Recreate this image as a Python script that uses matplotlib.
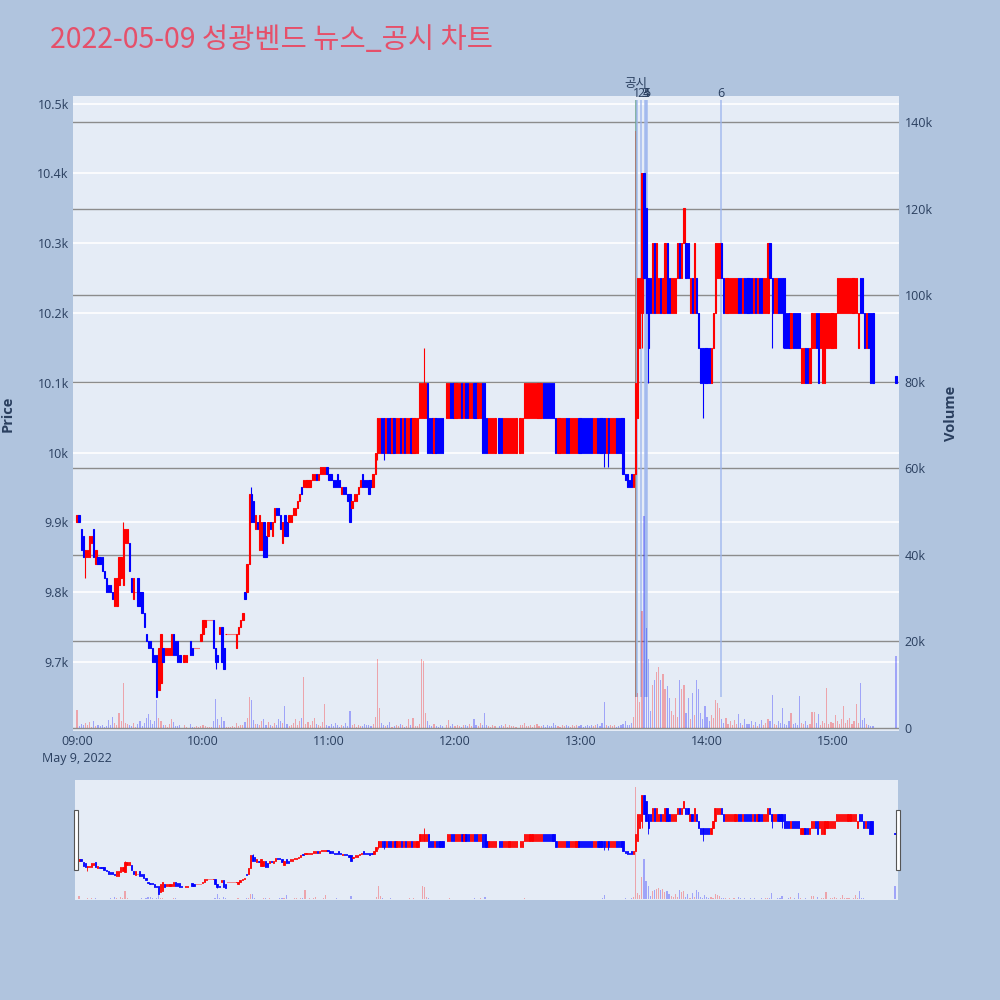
import matplotlib.pyplot as plt
from matplotlib.patches import Rectangle

plt.rcParams['font.family'] = ['Open Sans', 'Noto Sans CJK KR', 'DejaVu Sans']

# one candle per minute, counted from 09:00 (390 = 15:30 closing auction)
minutes = list(range(380)) + [390]

opens = [
    9900, 9910, 9890, 9880, 9850, 9850, 9850, 9870, 9890, 9840,
    9850, 9850, 9850, 9830, 9820, 9810, 9810, 9800, 9780, 9780,
    9810, 9820, 9810, 9870, 9870, 9870, 9820, 9790, 9800, 9820,
    9800, 9800, 9770, 9740, 9730, 9730, 9720, 9710, 9710, 9660,
    9670, 9720, 9710, 9710, 9710, 9710, 9740, 9730, 9730, 9710,
    None, 9700, 9700, None, 9730, 9720, 9720, 9720, 9720, 9730,
    9740, 9750, 9760, 9760, 9760, 9760, 9720, 9710, 9740, 9750,
    9720, 9740, 9740, 9740, 9740, 9740, 9720, 9740, 9750, 9760,
    9800, 9800, 9840, 9940, 9930, 9890, 9900, 9860, 9860, 9900,
    9880, 9880, 9900, 9880, 9900, 9920, 9920, 9910, 9870, 9910,
    9900, 9900, 9900, 9910, 9910, 9920, 9930, 9950, 9950, 9950,
    9950, 9950, 9960, 9960, 9970, 9960, 9970, 9970, 9970, 9980,
    9970, 9970, 9960, 9960, 9970, 9960, 9940, 9950, 9950, 9940,
    9940, 9920, 9930, 9930, 9940, 9950, 9970, 9960, 9960, 9960,
    9960, 9950, 9970, 10000, 10000, 10050, 10050, 10000, 10050, 10050,
    10000, 10050, 10000, 10000, 10050, 10000, 10050, 10000, 10000, 10050,
    10000, 10000, 10000, 10050, 10050, 10050, 10050, 10100, 10050, 10050,
    10000, 10050, 10050, 10050, 10050, None, 10050, 10050, 10100, 10100,
    10050, 10050, 10050, 10100, 10050, 10100, 10100, 10050, 10050, 10100,
    10100, 10050, 10050, 10100, 10100, 10050, 10000, 10000, 10000, 10000,
    None, 10050, 10050, 10000, 10000, 10000, 10000, 10000, 10000, 10000,
    None, 10000, 10000, 10050, 10050, 10050, 10050, 10050, 10050, 10050,
    10050, 10050, 10100, 10100, 10100, 10100, 10100, 10100, 10050, 10000,
    10000, 10000, 10000, 10050, 10050, 10000, 10000, 10000, 10000, 10050,
    10050, 10050, 10050, 10050, 10050, 10050, 10000, 10000, 10050, 10050,
    10050, 10050, 10000, 10050, 10000, 10000, 10000, 10050, 10050, 10050,
    10050, 9970, 9970, 9960, 9970, 9950, 9970, 10050, 10150, 10200,
    10400, 10350, 10250, 10250, 10200, 10300, 10200, 10200, 10250, 10200,
    10200, 10300, 10250, 10200, 10200, 10200, 10250, 10300, 10250, 10300,
    10300, 10300, 10200, 10250, 10200, 10250, 10200, 10150, 10150, 10150,
    10150, 10150, 10100, 10150, 10200, 10250, 10250, 10300, 10250, 10200,
    10200, 10200, 10200, 10200, 10200, 10250, 10250, 10200, 10250, 10250,
    10250, 10250, 10200, 10250, 10200, 10250, 10250, 10200, 10200, 10200,
    10300, 10250, 10200, 10200, 10250, 10250, 10250, 10250, 10200, 10200,
    10150, 10200, 10200, 10200, 10200, 10100, 10100, 10150, 10150, 10100,
    10150, 10150, 10200, 10200, 10150, 10100, 10100, 10150, 10150, 10150,
    10150, 10150, 10200, 10200, 10200, 10200, 10200, 10200, 10200, 10200,
    10200, 10200, 10150, 10250, 10250, 10200, 10150, 10200, 10200, 10200,
    10110,
]

closes = [
    9910, 9900, 9860, 9850, 9860, 9860, 9880, 9880, 9850, 9860,
    9840, 9840, 9830, 9820, 9800, 9800, 9800, 9790, 9820, 9820,
    9850, 9850, 9890, 9890, 9890, 9830, 9800, 9820, 9800, 9780,
    9780, 9770, 9750, 9730, 9720, 9720, 9700, 9700, 9650, 9720,
    9740, 9700, 9720, 9720, 9720, 9740, 9710, 9710, 9700, 9700,
    None, 9710, 9710, None, 9710, 9710, 9720, 9720, 9720, 9740,
    9760, 9760, 9760, 9760, 9760, 9720, 9700, 9700, 9750, 9700,
    9690, 9740, 9740, 9740, 9740, 9740, 9740, 9750, 9760, 9770,
    9790, 9840, 9940, 9900, 9900, 9910, 9890, 9910, 9900, 9850,
    9850, 9900, 9890, 9900, 9920, 9910, 9910, 9890, 9900, 9880,
    9880, 9910, 9910, 9920, 9920, 9930, 9940, 9940, 9960, 9960,
    9960, 9960, 9970, 9970, 9960, 9970, 9980, 9980, 9980, 9970,
    9960, 9960, 9950, 9950, 9950, 9950, 9950, 9940, 9940, 9930,
    9900, 9930, 9940, 9940, 9950, 9960, 9950, 9950, 9950, 9940,
    9950, 9970, 10000, 10050, 10050, 10000, 10000, 10050, 10000, 10000,
    10050, 10000, 10050, 10050, 10000, 10050, 10000, 10050, 10050, 10000,
    10050, 10050, 10050, 10100, 10100, 10100, 10100, 10000, 10000, 10000,
    10050, 10000, 10000, 10000, 10000, None, 10100, 10100, 10050, 10050,
    10100, 10100, 10100, 10050, 10100, 10050, 10050, 10100, 10100, 10050,
    10050, 10100, 10100, 10000, 10000, 10000, 10050, 10050, 10050, 10050,
    None, 10000, 10000, 10050, 10050, 10050, 10050, 10050, 10050, 10050,
    None, 10050, 10050, 10100, 10100, 10100, 10100, 10100, 10100, 10100,
    10100, 10100, 10050, 10050, 10050, 10050, 10050, 10050, 10000, 10050,
    10050, 10050, 10050, 10000, 10000, 10050, 10050, 10050, 10050, 10000,
    10000, 10000, 10000, 10000, 10000, 10000, 10050, 10050, 10000, 10000,
    10000, 10000, 10050, 10000, 10050, 10050, 10050, 10000, 10000, 10000,
    9970, 9960, 9950, 9950, 9950, 9970, 10100, 10250, 10250, 10400,
    10250, 10200, 10150, 10200, 10300, 10200, 10300, 10250, 10200, 10250,
    10300, 10200, 10200, 10250, 10250, 10250, 10300, 10250, 10300, 10350,
    10250, 10250, 10250, 10200, 10300, 10200, 10150, 10100, 10100, 10100,
    10100, 10100, 10150, 10200, 10300, 10300, 10300, 10250, 10200, 10250,
    10250, 10250, 10250, 10250, 10250, 10200, 10200, 10250, 10200, 10200,
    10200, 10200, 10250, 10200, 10250, 10200, 10200, 10250, 10250, 10300,
    10250, 10200, 10250, 10250, 10200, 10200, 10200, 10150, 10150, 10150,
    10200, 10150, 10150, 10150, 10150, 10150, 10150, 10100, 10100, 10150,
    10200, 10200, 10150, 10100, 10200, 10200, 10200, 10200, 10200, 10200,
    10200, 10200, 10250, 10250, 10250, 10250, 10250, 10250, 10250, 10250,
    10250, 10250, 10200, 10200, 10200, 10150, 10200, 10150, 10100, 10100,
    10100,
]

wick_high = {22: 9900, 83: 9950, 165: 10150}
wick_low = {4: 9820, 66: 9690, 143: 9990, 146: 9990, 251: 9980, 253: 9980,
            269: 10150, 272: 10100, 298: 10050, 331: 10150, 336: 10150}

# traded volume per minute, thousands of shares
volume_k = [
    4.2, 0.5, 1.0, 0.8, 1.2, 0.6, 1.4, 0.3, 1.5, 0.5, 0.8, 0.4, 0.6, 0.3, 0.5, 1.8, 0.7, 2.6, 1.2, 0.6,
    3.5, 1.5, 10.4, 1.2, 1.0, 0.6, 0.4, 1.1, 0.3, 0.9, 1.6, 0.5, 1.2, 2.4, 3.2, 1.8, 0.9, 1.5, 6.5, 2.2,
    1.6, 0.8, 0.6, 0.3, 0.9, 2.1, 1.4, 0.5, 0.4, 0.7, 0.0, 0.6, 0.2, 0.0, 1.0, 0.3, 0.2, 0.4, 0.3, 0.5,
    0.8, 0.4, 0.2, 0.3, 0.2, 1.5, 6.7, 2.0, 0.6, 2.5, 1.7, 0.3, 0.2, 0.2, 0.4, 0.3, 1.2, 0.5, 0.8, 0.6,
    1.4, 2.2, 7.2, 6.5, 1.8, 0.9, 1.0, 0.6, 1.5, 2.0, 0.8, 1.3, 0.7, 0.5, 1.1, 0.6, 2.0, 1.6, 1.2, 5.0,
    1.0, 0.5, 0.8, 1.2, 2.0, 0.6, 1.5, 2.2, 11.8, 0.9, 1.3, 0.7, 1.6, 2.4, 1.0, 0.8, 0.5, 1.4, 5.5, 0.7,
    0.5, 0.9, 0.4, 1.2, 0.6, 0.3, 0.8, 0.5, 1.1, 0.4, 4.0, 0.6, 0.9, 0.3, 0.7, 0.5, 0.4, 1.0, 0.6, 0.8,
    0.5, 0.9, 2.5, 16.0, 4.6, 1.2, 0.8, 0.5, 0.6, 1.4, 0.3, 0.4, 0.7, 0.5, 1.0, 0.6, 0.3, 0.5, 2.0, 0.8,
    2.3, 0.5, 0.4, 1.0, 16.0, 15.5, 3.5, 1.6, 0.8, 0.4, 0.9, 0.5, 0.3, 0.6, 0.4, 0.0, 0.8, 1.8, 0.5, 0.9,
    0.4, 0.7, 0.5, 0.3, 0.6, 0.8, 0.4, 1.0, 0.5, 2.0, 0.7, 0.4, 1.2, 0.6, 3.5, 0.8, 0.5, 0.3, 0.6, 0.4,
    0.0, 0.5, 0.7, 0.4, 0.9, 0.3, 0.6, 0.5, 0.4, 0.3, 0.0, 0.6, 0.8, 1.2, 0.5, 0.4, 0.7, 0.3, 0.6, 1.0,
    0.5, 0.4, 0.8, 0.3, 0.6, 0.5, 0.4, 1.1, 0.7, 0.5, 0.3, 0.6, 0.4, 0.8, 0.5, 0.3, 0.6, 0.4, 0.7, 0.5,
    0.6, 0.3, 0.5, 0.8, 0.4, 0.7, 0.5, 0.6, 0.9, 0.4, 1.2, 6.0, 0.8, 0.5, 0.7, 0.4, 0.6, 0.3, 0.5, 0.8,
    1.0, 1.5, 0.8, 0.6, 1.2, 2.5, 138.0, 8.0, 6.0, 27.0, 49.0, 23.0, 16.0, 4.0, 10.0, 11.0, 13.0, 14.0, 11.0, 12.5,
    9.0, 9.7, 7.0, 4.0, 3.0, 7.0, 2.5, 11.0, 9.0, 10.0, 3.5, 7.0, 2.0, 8.0, 3.0, 11.0, 9.0, 3.5, 2.0, 5.0,
    2.5, 1.5, 3.0, 2.2, 6.5, 5.8, 4.5, 2.0, 1.2, 2.3, 1.0, 1.5, 0.8, 1.8, 1.0, 3.2, 1.2, 0.7, 2.0, 1.0,
    0.9, 1.6, 0.8, 1.3, 0.5, 1.0, 1.8, 0.8, 1.2, 2.0, 1.5, 7.6, 1.0, 0.8, 1.6, 1.2, 4.6, 1.0, 0.7, 1.5,
    3.5, 1.0, 1.2, 0.8, 7.4, 1.2, 0.9, 1.5, 0.6, 1.0, 3.7, 3.7, 1.1, 3.2, 0.8, 1.5, 1.2, 9.2, 1.0, 1.4,
    1.2, 3.0, 1.5, 1.0, 2.0, 5.0, 1.2, 1.8, 2.2, 1.0, 1.5, 5.5, 1.2, 10.4, 1.8, 2.3, 1.0, 0.8, 0.5, 0.4,
    16.7,
]

# news / disclosure markers (minute after 09:00)
notice_minute = 266.0
notice_label = '공시'
news_minutes = [266.6, 268.4, 270.6, 271.0, 271.5, 306.5]
news_labels = ['1', '2', '3', '4', '5', '6']

time_ticks = [0, 60, 120, 180, 240, 300, 360]
time_labels = ['09:00', '10:00', '11:00', '12:00', '13:00', '14:00', '15:00']
price_ticks = [9700, 9800, 9900, 10000, 10100, 10200, 10300, 10400, 10500]
price_labels = ['9.7k', '9.8k', '9.9k', '10k', '10.1k', '10.2k', '10.3k', '10.4k', '10.5k']
vol_ticks = [0, 20000, 40000, 60000, 80000, 100000, 120000, 140000]
vol_labels = ['0', '20k', '40k', '60k', '80k', '100k', '120k', '140k']

RED = '#ff0000'
BLUE = '#0000ff'
TXT = '#2a3f5f'
XLIM = (-1.9, 391.4)
PLIM = (9601, 10511)
VLIM = (-700, 146000)


def draw_candles(ax, lw, width):
    for m, o, c in zip(minutes, opens, closes):
        if o is None:
            continue
        col = RED if c >= o else BLUE
        lo, hi = min(o, c), max(o, c)
        ax.add_patch(Rectangle((m - width / 2, lo), width, hi - lo,
                               facecolor=col, edgecolor=col, lw=lw, zorder=3))
        h = wick_high.get(m, hi)
        l = wick_low.get(m, lo)
        if h > hi or l < lo:
            ax.vlines(m, l, h, color=col, lw=lw, zorder=3)


def draw_volume(ax, width):
    cols = []
    for o, c in zip(opens, closes):
        cols.append(RED if (o is None or c >= o) else BLUE)
    ax.bar(minutes, [v * 1000 for v in volume_k], width=width, color=cols,
           alpha=0.3, lw=0, zorder=4)


fig = plt.figure(figsize=(10, 10), dpi=100)
fig.patch.set_facecolor('#b0c4de')

rect = [0.073, 0.269, 0.826, 0.635]

# base layer: background + price grid + left ticks
ax_g = fig.add_axes(rect)
ax_g.set_facecolor('#e5ecf6')
ax_g.set_xlim(*XLIM)
ax_g.set_ylim(*PLIM)
ax_g.set_yticks(price_ticks)
ax_g.set_yticklabels(price_labels)
ax_g.set_xticks(time_ticks)
ax_g.set_xticklabels(time_labels)
ax_g.grid(axis='y', color='white', lw=1.2)
ax_g.tick_params(length=0, labelsize=9, colors=TXT, pad=3)
ax_g.set_ylabel('Price', fontsize=10.5, color=TXT, fontweight='bold', labelpad=16)
ax_g.set_axisbelow(True)
for s in ax_g.spines.values():
    s.set_visible(False)
ax_g.text(0, -0.033, 'May 9, 2022', transform=ax_g.get_xaxis_transform(),
          ha='center', va='top', fontsize=9, color=TXT)

# volume grid + right ticks
ax_v = fig.add_axes(rect, sharex=ax_g)
ax_v.patch.set_visible(False)
ax_v.set_ylim(*VLIM)
ax_v.yaxis.tick_right()
ax_v.yaxis.set_label_position('right')
ax_v.set_yticks(vol_ticks)
ax_v.set_yticklabels(vol_labels)
ax_v.grid(axis='y', color='#8c8c8c', lw=1.0)
ax_v.tick_params(axis='y', length=0, labelsize=9, colors=TXT, pad=4)
ax_v.tick_params(axis='x', length=0, labelbottom=False)
ax_v.set_ylabel('Volume', fontsize=10.5, color=TXT, fontweight='bold', labelpad=8)
for s in ax_v.spines.values():
    s.set_visible(False)

# candles
ax_p = fig.add_axes(rect, sharex=ax_g)
ax_p.patch.set_visible(False)
ax_p.set_ylim(*PLIM)
ax_p.axis('off')
draw_candles(ax_p, lw=0.8, width=0.6)
ax_p.vlines(notice_minute, 9650, 10505, color='#6da58e', lw=1.4, alpha=0.8, zorder=2)
ax_p.vlines(news_minutes, 9650, 10505, color='#9db5ee', lw=1.4, alpha=0.7, zorder=2)
ax_p.text(notice_minute, 10520, notice_label, ha='center', va='bottom',
          fontsize=9, color=TXT, family=['Noto Sans CJK KR'])
for m, lab in zip(news_minutes, news_labels):
    ax_p.text(m, 10505, lab, ha='center', va='bottom', fontsize=9, color=TXT)

# volume bars on top
ax_vb = fig.add_axes(rect, sharex=ax_g)
ax_vb.patch.set_visible(False)
ax_vb.set_ylim(*VLIM)
ax_vb.axis('off')
draw_volume(ax_vb, width=0.55)

# range slider
srect = [0.075, 0.1, 0.823, 0.12]
ax_s = fig.add_axes(srect)
ax_s.set_facecolor('#e5ecf6')
ax_s.set_xlim(*XLIM)
ax_s.set_ylim(*PLIM)
ax_s.set_xticks([])
ax_s.set_yticks([])
for s in ax_s.spines.values():
    s.set_visible(False)
draw_candles(ax_s, lw=0.6, width=0.6)
ax_sv = fig.add_axes(srect, sharex=ax_s)
ax_sv.patch.set_visible(False)
ax_sv.set_ylim(*VLIM)
ax_sv.axis('off')
draw_volume(ax_sv, width=0.55)
for hx in (0.0735, 0.8955):
    fig.add_artist(Rectangle((hx, 0.13), 0.004, 0.06, transform=fig.transFigure,
                             facecolor='white', edgecolor='#555555', lw=0.8))

fig.text(0.05, 0.96, '2022-05-09 성광벤드 뉴스_공시 차트', ha='left', va='center',
         fontsize=20.5, color='#e5506a', family=['Noto Sans CJK KR'])

fig.savefig('out.png', dpi=100, facecolor=fig.get_facecolor())
